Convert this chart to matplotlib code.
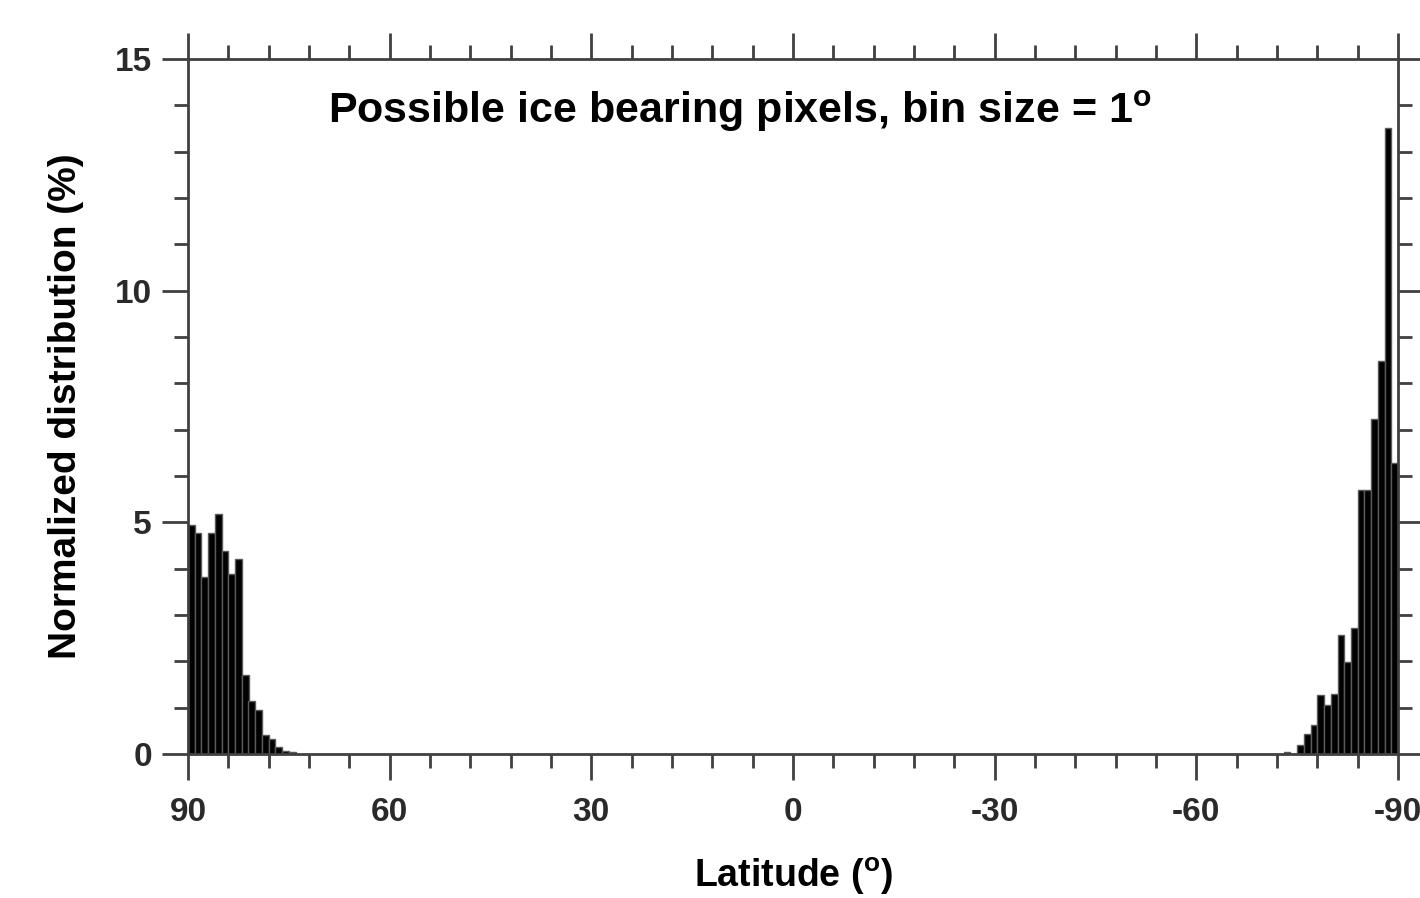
import matplotlib
matplotlib.use('Agg')
import matplotlib.pyplot as plt
from matplotlib.ticker import MultipleLocator

plt.rcParams['font.family'] = ['Liberation Sans', 'DejaVu Sans']
plt.rcParams['font.weight'] = 'bold'
plt.rcParams['mathtext.fontset'] = 'custom'
plt.rcParams['mathtext.rm'] = 'Liberation Sans:bold'
plt.rcParams['mathtext.it'] = 'Liberation Sans:bold'
plt.rcParams['mathtext.bf'] = 'Liberation Sans:bold'

# 北半球 (90 -> 74)
lat_north = [89.5, 88.5, 87.5, 86.5, 85.5, 84.5, 83.5, 82.5,
             81.5, 80.5, 79.5, 78.5, 77.5, 76.5, 75.5, 74.5]
dist_north = [4.94, 4.78, 3.81, 4.78, 5.17, 4.39, 3.88, 4.21,
              1.71, 1.14, 0.96, 0.42, 0.32, 0.16, 0.07, 0.05]

# 南半球 (-73 -> -90)
lat_south = [-73.5, -74.5, -75.5, -76.5, -77.5, -78.5, -79.5, -80.5, -81.5,
             -82.5, -83.5, -84.5, -85.5, -86.5, -87.5, -88.5, -89.5]
dist_south = [0.05, 0.0, 0.19, 0.43, 0.63, 1.27, 1.06, 1.29, 2.56,
              1.99, 2.73, 5.70, 5.70, 7.22, 8.48, 13.52, 6.28]

axis_col = '#404040'

fig = plt.figure(figsize=(14.2, 8.98), dpi=100)
ax = fig.add_axes([188 / 1420, 144 / 898, 1210 / 1420, 695 / 898])

ax.bar(lat_north + lat_south, dist_north + dist_south, width=1.0,
       color='black', edgecolor='#5a5a5a', linewidth=1.0)

ax.set_xlim(90, -90)
ax.set_ylim(0, 15)

ax.xaxis.set_major_locator(MultipleLocator(30))
ax.xaxis.set_minor_locator(MultipleLocator(6))
ax.yaxis.set_major_locator(MultipleLocator(5))
ax.yaxis.set_minor_locator(MultipleLocator(1))

ax.tick_params(which='both', direction='out', top=True, right=True,
               color=axis_col, width=2.0)
ax.tick_params(which='major', length=19)
ax.tick_params(which='minor', length=10)
ax.tick_params(axis='x', which='major', labelsize=24, pad=12, labelcolor='#2a2a2a')
ax.tick_params(axis='y', which='major', labelsize=24, pad=7, labelcolor='#2a2a2a')

for sp in ax.spines.values():
    sp.set_color(axis_col)
    sp.set_linewidth(2.0)

ax.set_xticks([90, 60, 30, 0, -30, -60, -90])
ax.set_xticklabels(['90', '60', '30', '0', '-30', '-60', '-90'])

ax.set_xlabel(r'Latitude ($^{\rm o}$)', fontsize=27, fontweight='bold', labelpad=20)
ax.set_ylabel('Normalized distribution (%)', fontsize=28, fontweight='bold', labelpad=22)

ax.text(0.1157, 0.908, r'Possible ice bearing pixels, bin size = 1$^{\rm o}$',
        transform=ax.transAxes, fontsize=31, fontweight='bold', va='baseline', ha='left')

fig.savefig('out.png', dpi=100)
